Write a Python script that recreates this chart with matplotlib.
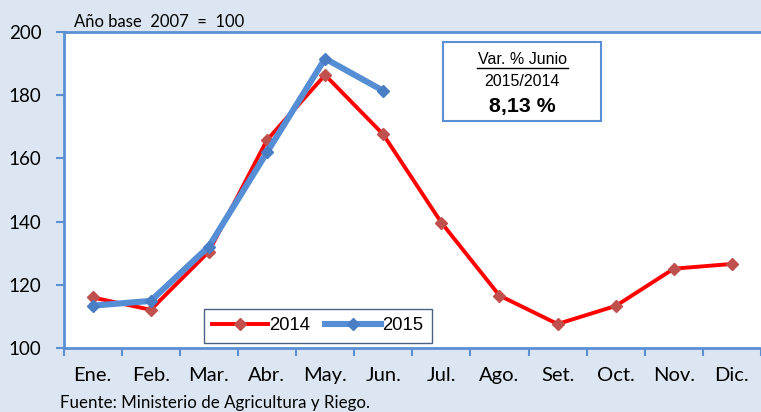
import matplotlib.pyplot as plt
from matplotlib.patches import Rectangle
from matplotlib.lines import Line2D
import numpy as np

months = ["Ene.", "Feb.", "Mar.", "Abr.", "May.", "Jun.", "Jul.", "Ago.",
          "Set.", "Oct.", "Nov.", "Dic."]
vals_2014 = [116.0, 112.1, 130.5, 165.8, 186.4, 167.6, 139.7, 116.6,
             107.6, 113.3, 125.1, 126.6]
vals_2015 = [113.4, 114.9, 132.1, 161.9, 191.6, 181.4]

W, H = 761, 412
bg = "#DCE6F2"
spine_c = "#5B8FD4"


def fx(px):
    return px / W


def fy(py):
    return 1 - py / H


fig = plt.figure(figsize=(W / 100, H / 100), dpi=100, facecolor=bg)
ax = fig.add_axes([fx(63.5), fy(348), fx(761) - fx(63.5), fy(32) - fy(348)])
ax.set_facecolor("white")

x = np.arange(len(months))
ax.plot(x, vals_2014, color="#FF0000", lw=2.8, marker="D", ms=6.2,
        mfc="#C0504D", mec="#C0504D", label="2014", zorder=3)
ax.plot(x[:len(vals_2015)], vals_2015, color="#558ED5", lw=4.4, marker="D", ms=6.2,
        mfc="#4A7EC4", mec="#4A7EC4", label="2015", zorder=4)

ax.set_xlim(-0.5, 11.3)
ax.set_ylim(100, 200)
ax.set_yticks([100, 120, 140, 160, 180, 200])

ax.set_xticks(np.arange(-0.5, 12, 1))
ax.set_xticklabels([])
ax.set_xticks(x, minor=True)
ax.set_xticklabels(months, minor=True, fontsize=14.5, family="Lato")
ax.tick_params(axis="x", which="major", length=6, color=spine_c, width=1.5)
ax.tick_params(axis="x", which="minor", length=0, pad=14)
ax.tick_params(axis="y", length=6, color=spine_c, width=1.5, pad=10,
               labelsize=13.5)
for lab in ax.get_yticklabels():
    lab.set_family("Lato")

for s in ["left", "bottom", "top"]:
    ax.spines[s].set_color(spine_c)
    ax.spines[s].set_linewidth(2)
ax.spines["right"].set_visible(False)

fig.text(fx(74), fy(27), "Año base  2007  =  100", fontsize=12,
         family="Lato", va="baseline", ha="left")

# legend
leg = ax.legend(loc="upper left", bbox_to_anchor=(fx(204), fy(309)),
                bbox_transform=fig.transFigure, borderaxespad=0,
                ncol=2, frameon=True, fancybox=False,
                handlelength=3.0, columnspacing=0.8, handletextpad=0.1,
                borderpad=0.45, prop={"family": "Liberation Sans", "size": 13.3})
leg.get_frame().set_edgecolor("#1F3864")
leg.get_frame().set_linewidth(1)

# variation box
fig.patches.append(Rectangle((fx(443), fy(121)), fx(601) - fx(443), fy(42) - fy(121),
                             transform=fig.transFigure, facecolor="white",
                             edgecolor="#5B8FD4", lw=1.5, zorder=5))
cx = fx(522)
fig.text(cx, fy(64.3), "Var. % Junio", ha="center", va="baseline", fontsize=11.5,
         family="Liberation Sans", zorder=6)
fig.add_artist(Line2D([fx(477), fx(568)], [fy(67.7), fy(67.7)], color="black",
                      lw=1, transform=fig.transFigure, zorder=6))
fig.text(cx, fy(86), "2015/2014", ha="center", va="baseline", fontsize=11.5,
         family="Liberation Sans", zorder=6)
fig.text(cx, fy(112.3), "8,13 %", ha="center", va="baseline", fontsize=15.4,
         fontweight="bold", family="Liberation Sans", zorder=6)

fig.text(fx(60), fy(408), "Fuente: Ministerio de Agricultura y Riego.",
         fontsize=12.2, family="Lato", va="baseline", ha="left")

fig.savefig("out.png", dpi=100, facecolor=bg)
